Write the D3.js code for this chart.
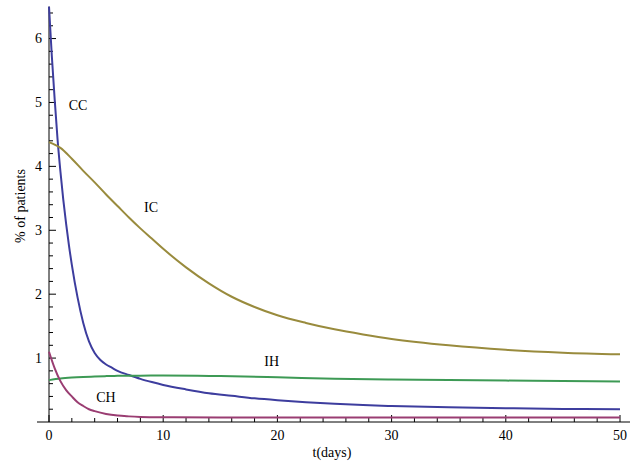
<!DOCTYPE html>
<html>
<head>
<meta charset="utf-8">
<script src="https://cdn.jsdelivr.net/npm/d3@7"></script>
<style>
  html, body { margin: 0; padding: 0; background: #fff; }
  svg { display: block; }
</style>
</head>
<body>
<svg id="chart" width="641" height="469"></svg>
<script>
// ---- data ----
const ccT = [0, 0.25, 0.5, 0.75, 1, 1.25, 1.5, 1.75, 2, 2.5, 3, 3.5, 4, 4.5, 5, 5.5, 6, 7, 8, 9, 10, 12, 14, 16, 18, 20, 22.5, 25, 27.5, 30, 35, 40, 45, 50];
const ccV = [6.5, 5.72, 5.04, 4.42, 3.92, 3.48, 3.1, 2.76, 2.46, 1.95, 1.55, 1.26, 1.08, 0.97, 0.9, 0.85, 0.8, 0.735, 0.675, 0.625, 0.58, 0.51, 0.45, 0.41, 0.37, 0.34, 0.31, 0.285, 0.265, 0.25, 0.23, 0.215, 0.205, 0.2];

const icT = [0, 1, 2, 3, 4, 5, 6, 7, 8, 9, 10, 12, 14, 16, 18, 20, 22.5, 25, 27.5, 30, 35, 40, 45, 50];
const icV = [4.38, 4.29, 4.12, 3.93, 3.75, 3.56, 3.38, 3.2, 3.03, 2.87, 2.71, 2.42, 2.17, 1.96, 1.8, 1.67, 1.55, 1.45, 1.37, 1.3, 1.2, 1.13, 1.085, 1.06];

const ihT = [0, 1, 2, 3, 4, 5, 6, 8, 10, 13, 15, 20, 25, 30, 35, 40, 45, 50];
const ihV = [0.655, 0.68, 0.695, 0.705, 0.712, 0.718, 0.722, 0.725, 0.726, 0.725, 0.72, 0.7, 0.675, 0.665, 0.657, 0.648, 0.64, 0.632];

const chT = [0, 0.5, 1, 1.5, 2, 2.5, 3, 3.5, 4, 5, 6, 7, 8, 10, 15, 20, 30, 40, 50];
const chV = [1.1, 0.84, 0.64, 0.5, 0.4, 0.31, 0.25, 0.2, 0.17, 0.125, 0.1, 0.088, 0.08, 0.074, 0.07, 0.07, 0.07, 0.07, 0.07];

const seriesNames = ["CC", "IC", "IH", "CH"];
const labelT = [2.54, 8.93, 19.5, 4.99];
const labelV = [4.96, 3.35, 0.94, 0.376];

const xMajorTicks = [0, 10, 20, 30, 40, 50];
const yMajorTicks = [1, 2, 3, 4, 5, 6];
const xTitle = "t(days)";
const yTitle = "% of patients";

// ---- layout ----
const FONT = "'Liberation Serif', 'Times New Roman', Times, serif";
const colors = { CC: "#3d3d9e", IC: "#998b3d", IH: "#3d9a55", CH: "#9a3d72" };
const svg = d3.select("#chart").attr("font-family", FONT).style("font-family", FONT);
const x = d3.scaleLinear().domain([0, 50]).range([49, 620]);
const y = d3.scaleLinear().domain([0, 6.5]).range([422, 6.6]);

const series = [
  { name: "CC", t: ccT, v: ccV },
  { name: "IC", t: icT, v: icV },
  { name: "IH", t: ihT, v: ihV },
  { name: "CH", t: chT, v: chV }
];

// axes lines
svg.append("line").attr("x1", 37).attr("x2", 630).attr("y1", y(0)).attr("y2", y(0))
  .attr("stroke", "#000").attr("stroke-width", 1);
svg.append("line").attr("x1", x(0)).attr("x2", x(0)).attr("y1", y(0)).attr("y2", y(6.5))
  .attr("stroke", "#000").attr("stroke-width", 1);

// x ticks (inside, upwards)
const xMinor = d3.range(0, 50.01, 2).filter(d => d % 10 !== 0);
svg.append("g").selectAll("line").data(xMajorTicks).join("line")
  .attr("x1", d => x(d)).attr("x2", d => x(d)).attr("y1", y(0)).attr("y2", y(0) - 7)
  .attr("stroke", "#000");
svg.append("g").selectAll("line").data(xMinor).join("line")
  .attr("x1", d => x(d)).attr("x2", d => x(d)).attr("y1", y(0)).attr("y2", y(0) - 4)
  .attr("stroke", "#000");
svg.append("g").selectAll("text").data(xMajorTicks).join("text")
  .attr("x", d => x(d)).attr("y", 435).attr("text-anchor", "middle")
  .attr("dominant-baseline", "central").attr("font-size", 14)
  .style("font-family", FONT).text(d => d);

// y ticks (inside, rightwards)
const yMinor = d3.range(0.2, 6.45, 0.2).filter(d => Math.abs(d - Math.round(d)) > 0.01);
svg.append("g").selectAll("line").data(yMajorTicks).join("line")
  .attr("x1", x(0)).attr("x2", x(0) + 7).attr("y1", d => y(d)).attr("y2", d => y(d))
  .attr("stroke", "#000");
svg.append("g").selectAll("line").data(yMinor).join("line")
  .attr("x1", x(0)).attr("x2", x(0) + 4).attr("y1", d => y(d)).attr("y2", d => y(d))
  .attr("stroke", "#000");
svg.append("g").selectAll("text").data(yMajorTicks).join("text")
  .attr("x", 42).attr("y", d => y(d)).attr("text-anchor", "end")
  .attr("dominant-baseline", "central").attr("font-size", 14)
  .style("font-family", FONT).text(d => d);

// titles
svg.append("text").attr("x", 332).attr("y", 452).attr("text-anchor", "middle")
  .attr("dominant-baseline", "central").attr("font-size", 14)
  .style("font-family", FONT).text(xTitle);
svg.append("text").attr("transform", "translate(20,206) rotate(-90)")
  .attr("text-anchor", "middle").attr("dominant-baseline", "central")
  .attr("font-size", 14).style("font-family", FONT).text(yTitle);

// curves
const line = d3.line().x(d => x(d[0])).y(d => y(d[1])).curve(d3.curveMonotoneX);
series.forEach(s => {
  const pts = s.t.map((t, i) => [t, s.v[i]]);
  svg.append("path").datum(pts).attr("d", line)
    .attr("fill", "none").attr("stroke", colors[s.name]).attr("stroke-width", 2)
    .attr("stroke-linejoin", "round");
});

// curve labels
svg.append("g").selectAll("text").data(seriesNames).join("text")
  .attr("x", (d, i) => x(labelT[i])).attr("y", (d, i) => y(labelV[i]))
  .attr("text-anchor", "middle").attr("dominant-baseline", "central")
  .attr("font-size", 14).style("font-family", FONT).text(d => d);
</script>
</body>
</html>
